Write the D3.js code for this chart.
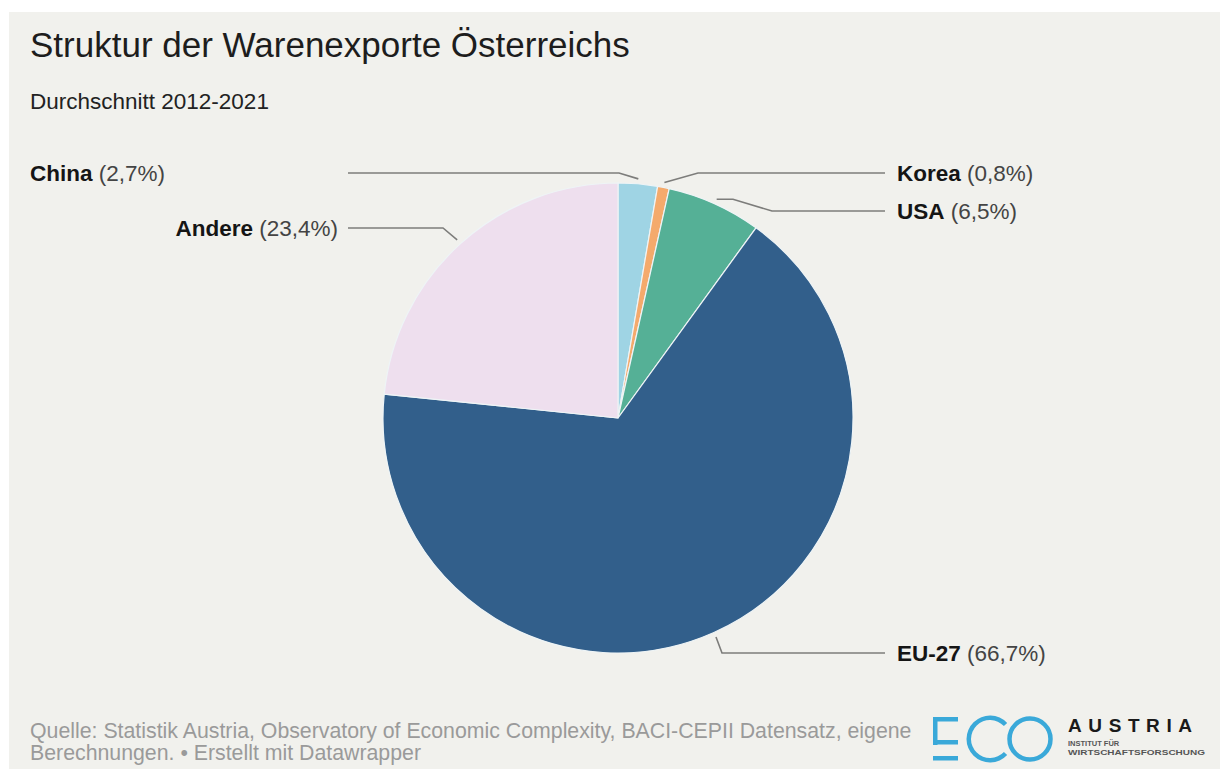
<!DOCTYPE html>
<html>
<head>
<meta charset="utf-8">
<script src="https://cdn.jsdelivr.net/npm/d3@7"></script>
<style>
  html, body { margin: 0; padding: 0; background: #ffffff; }
  svg { display: block; }
  text { font-family: "Liberation Sans", Arial, Helvetica, sans-serif; }
</style>
</head>
<body>
<svg id="chart" width="1220" height="769"></svg>
<script>
// ---------- data ----------
const categories = ["China", "Korea", "USA", "EU-27", "Andere"];
const values = [2.7, 0.8, 6.5, 66.7, 23.4];
const valueLabels = ["(2,7%)", "(0,8%)", "(6,5%)", "(66,7%)", "(23,4%)"];
const palette = ["#9fd4e4", "#f4aa6c", "#55b096", "#325f8b", "#eedfee"];

const titleText = "Struktur der Warenexporte Österreichs";
const subtitleText = "Durchschnitt 2012-2021";
const sourceLines = [
  "Quelle: Statistik Austria, Observatory of Economic Complexity, BACI-CEPII Datensatz, eigene",
  "Berechnungen. • Erstellt mit Datawrapper"
];

// ---------- layout ----------
const W = 1220, H = 769;
const cx = 618, cy = 418, R = 235;
const svg = d3.select("#chart");

svg.append("rect").attr("x", 0).attr("y", 0).attr("width", W).attr("height", H).attr("fill", "#ffffff");
svg.append("rect").attr("x", 9).attr("y", 12).attr("width", W - 9).attr("height", H - 12).attr("fill", "#f1f1ed");

svg.append("text").attr("x", 30).attr("y", 57)
  .attr("font-size", 35).attr("fill", "#1d1d1d").text(titleText);
svg.append("text").attr("x", 30).attr("y", 109)
  .attr("font-size", 22.5).attr("fill", "#222").text(subtitleText);

const color = d3.scaleOrdinal().domain(categories).range(palette);
const pie = d3.pie().sort(null).value(d => d.value);
const arcs = pie(categories.map((c, i) => ({ name: c, value: values[i], label: valueLabels[i] })));
const arc = d3.arc().innerRadius(0).outerRadius(R);

const g = svg.append("g").attr("transform", `translate(${cx},${cy})`);
g.selectAll("path.slice").data(arcs).enter().append("path")
  .attr("class", "slice")
  .attr("d", arc)
  .attr("fill", d => color(d.data.name))
  .attr("stroke", "#eef4f6")
  .attr("stroke-width", 1.2)
  .attr("stroke-linejoin", "round");

// label leader-line layout (absolute page coords)
const labelLayout = {
  "China":  { side: "left",  y: 173, elbowX: 619, textX: 30,  anchor: "start" },
  "Korea":  { side: "right", y: 173, elbowX: 698, textX: 897, anchor: "start" },
  "USA":    { side: "right", y: 211, elbowX: 772, pre: 733, textX: 897, anchor: "start" },
  "EU-27":  { side: "right", y: 653, elbowX: 722, textX: 897, anchor: "start" },
  "Andere": { side: "left",  y: 228, elbowX: 443, textX: 338, anchor: "end" }
};
const lineEndLeft = 348, lineEndRight = 885;

const outerArc = d3.arc().innerRadius(R + 5).outerRadius(R + 5);
arcs.forEach(d => {
  const L = labelLayout[d.data.name];
  const c = outerArc.centroid(d);
  const sx = cx + c[0], sy = cy + c[1];
  const pts = [[sx, sy]];
  if (L.pre) pts.push([L.pre, sy]);
  pts.push([L.elbowX, L.y]);
  pts.push([L.side === "left" ? lineEndLeft : lineEndRight, L.y]);
  svg.append("path")
    .attr("d", d3.line()(pts))
    .attr("fill", "none")
    .attr("stroke", "#7d7d7b")
    .attr("stroke-width", 1.6);

  const t = svg.append("text")
    .attr("x", L.textX).attr("y", L.y + 8)
    .attr("text-anchor", L.anchor)
    .attr("font-size", 22.5);
  t.append("tspan").attr("font-weight", "bold").attr("fill", "#151515").text(d.data.name);
  t.append("tspan").attr("fill", "#444").text(" " + d.data.label);
});

// source
sourceLines.forEach((s, i) => {
  svg.append("text").attr("x", 30).attr("y", 738 + i * 22)
    .attr("font-size", 21.3).attr("fill", "#9a9a9a").text(s);
});

// logo
const logo = svg.append("g");
const blue = "#3aa9d9";
logo.append("rect").attr("x", 933).attr("y", 717).attr("width", 25).attr("height", 4.5).attr("fill", blue);
logo.append("rect").attr("x", 933).attr("y", 717).attr("width", 4.5).attr("height", 28).attr("fill", blue);
logo.append("rect").attr("x", 933).attr("y", 740).attr("width", 25).attr("height", 4.5).attr("fill", blue);
logo.append("rect").attr("x", 933).attr("y", 756).attr("width", 25).attr("height", 4.5).attr("fill", blue);
const cArc = d3.arc().innerRadius(19).outerRadius(23.5).startAngle(0.75).endAngle(2 * Math.PI - 0.75);
logo.append("path").attr("d", cArc()).attr("transform", "translate(990,739) rotate(90)").attr("fill", blue);
logo.append("circle").attr("cx", 1030).attr("cy", 739).attr("r", 20.5)
  .attr("fill", "none").attr("stroke", blue).attr("stroke-width", 4.5);

logo.append("text").attr("x", 1068).attr("y", 732).attr("font-size", 19).attr("font-weight", "bold")
  .attr("fill", "#1a1a1a").attr("textLength", 124).attr("lengthAdjust", "spacing").text("AUSTRIA");
logo.append("text").attr("x", 1068).attr("y", 746).attr("font-size", 7.5).attr("font-weight", "bold")
  .attr("fill", "#555").text("INSTITUT FÜR");
logo.append("text").attr("x", 1068).attr("y", 755).attr("font-size", 7.5).attr("font-weight", "bold")
  .attr("fill", "#555").attr("textLength", 137).attr("lengthAdjust", "spacingAndGlyphs").text("WIRTSCHAFTSFORSCHUNG");
</script>
</body>
</html>
